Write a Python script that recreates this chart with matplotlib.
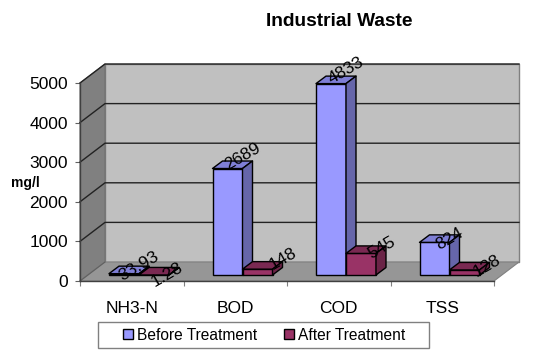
import matplotlib
matplotlib.use("Agg")
import matplotlib.pyplot as plt
from matplotlib.patches import Polygon, Rectangle

plt.rcParams['font.family'] = ['Liberation Sans', 'DejaVu Sans']

categories = ["NH3-N", "BOD", "COD", "TSS"]
before = [33.93, 2689, 4833, 824]
after = [1.28, 148, 545, 128]
before_labels = ["33.93", "2689", "4833", "824"]
after_labels = ["1.28", "148", "545", "128"]
yticks = [0, 1000, 2000, 3000, 4000, 5000]

W, H = 539, 352
# plot box of the front plane, in pixels of the picture
LEFT, RIGHT, BOTTOM, TOP = 80, 494, 281, 83
px_x = 4 / (RIGHT - LEFT)        # data units per pixel
px_y = 5000 / (BOTTOM - TOP)
# depth of the whole box and of one bar
wall_dx, wall_dy = 25 * px_x, 19 * px_y
bar_dx, bar_dy = 10 * px_x, 7.5 * px_y
base = 6 * px_y
bar_w = 30 * px_x
bar_off = 29 * px_x

fig = plt.figure(figsize=(W / 100, H / 100), dpi=100, facecolor="white")
ax = fig.add_axes([LEFT / W, 1 - BOTTOM / H, (RIGHT - LEFT) / W, (BOTTOM - TOP) / H])
ax.set_xlim(0, 4)
ax.set_ylim(0, 5000)
ax.patch.set_visible(False)


def poly(pts, fc, ec="none", lw=0.0, z=1):
    ax.add_patch(Polygon(pts, closed=True, facecolor=fc, edgecolor=ec, lw=lw,
                         zorder=z, clip_on=False, joinstyle="round"))


# walls and floor
poly([(wall_dx, wall_dy), (4 + wall_dx, wall_dy), (4 + wall_dx, 5000 + wall_dy), (wall_dx, 5000 + wall_dy)],
     "#c0c0c0", "#808080", 1.0)
poly([(0, 0), (wall_dx, wall_dy), (wall_dx, 5000 + wall_dy), (0, 5000)], "#808080", "#707070", 0.8)
poly([(0, 0), (wall_dx, wall_dy), (4 + wall_dx, wall_dy), (4, 0)], "#969696", "#808080", 0.8)

# gridlines run along left wall and back wall
for t in yticks[1:]:
    ax.plot([0, wall_dx, 4 + wall_dx], [t, t + wall_dy, t + wall_dy], color="#222222", lw=1.0,
            zorder=2, clip_on=False)
ax.plot([0, wall_dx], [0, wall_dy], color="#606060", lw=0.8, zorder=2, clip_on=False)


def bars3d(xpos, values, front, top, side, label):
    rects = ax.bar(xpos, values, bar_w, bottom=base, align="edge", color=front, edgecolor="black",
                   lw=1.0, zorder=4, clip_on=False, label=label)
    for x, v in zip(xpos, values):
        y = base + v
        poly([(x, y), (x + bar_dx, y + bar_dy), (x + bar_w + bar_dx, y + bar_dy), (x + bar_w, y)],
             top, "black", 1.0, 4)
        poly([(x + bar_w, base), (x + bar_w + bar_dx, base + bar_dy), (x + bar_w + bar_dx, y + bar_dy),
              (x + bar_w, y)], side, "black", 1.0, 4)
    return rects


x_before = [i + bar_off for i in range(4)]
x_after = [i + bar_off + bar_w for i in range(4)]
bars3d(x_before, before, "#9999ff", "#7f7fd6", "#6666aa", "Before Treatment")
bars3d(x_after, after, "#993366", "#7a2952", "#6b2447", "After Treatment")

# labels sit rotated over the bar tops, offsets in pixels from the front top centre
before_off = [(15, 7), (15, 12), (15, 13), (15, 3)]
after_off = [(13, 0), (25, 10), (21, 6), (22, 4)]
for xs, vals, labs, offs in [(x_before, before, before_labels, before_off),
                             (x_after, after, after_labels, after_off)]:
    for x, v, s, o in zip(xs, vals, labs, offs):
        ax.annotate(s, (x + bar_w / 2, base + v), xytext=o, textcoords="offset pixels", rotation=30,
                    ha="center", va="center", rotation_mode="anchor", fontsize=12.5,
                    color="black", zorder=6, annotation_clip=False)

# axes
for s in ["top", "right"]:
    ax.spines[s].set_visible(False)
for s in ["left", "bottom"]:
    ax.spines[s].set_color("#404040")
    ax.spines[s].set_linewidth(1.0)
    ax.spines[s].set_zorder(3)
ax.set_yticks(yticks)
ax.tick_params(axis="y", length=3.6, width=0.8, color="#606060", pad=5, labelsize=12.5)
ax.set_xticks(range(5))
ax.set_xticklabels([])
ax.set_xticks([i + 0.5 for i in range(4)], minor=True)
ax.set_xticklabels(categories, minor=True, fontsize=12.5)
ax.tick_params(axis="x", which="major", length=3.6, width=0.8, color="#808080")
ax.tick_params(axis="x", which="minor", length=0, pad=14.7)
ax.set_ylabel("mg/l", rotation=0, fontsize=10, fontweight="bold", ha="center", va="center")
ax.yaxis.set_label_coords((25 - LEFT) / (RIGHT - LEFT), (BOTTOM - 183) / (BOTTOM - TOP))

fig.suptitle("Industrial Waste", x=339 / W, y=1 - 22 / H, fontsize=13.8, fontweight="bold", va="center")

# legend frame is wider than the entries, so it is drawn on its own
fig.add_artist(Rectangle((98 / W, 1 - 348 / H), 331 / W, 26 / H, transform=fig.transFigure, facecolor="white",
                         edgecolor="#808080", lw=1.0))
leg = fig.legend(loc="center", bbox_to_anchor=(264 / W, 1 - 335 / H), ncol=2, fontsize=11.2, frameon=False,
                 handlelength=0.62, handleheight=0.62, handletextpad=0.25, columnspacing=1.75,
                 borderpad=0.4, borderaxespad=0)
leg.set_zorder(5)

fig.savefig("out.png", dpi=100)
